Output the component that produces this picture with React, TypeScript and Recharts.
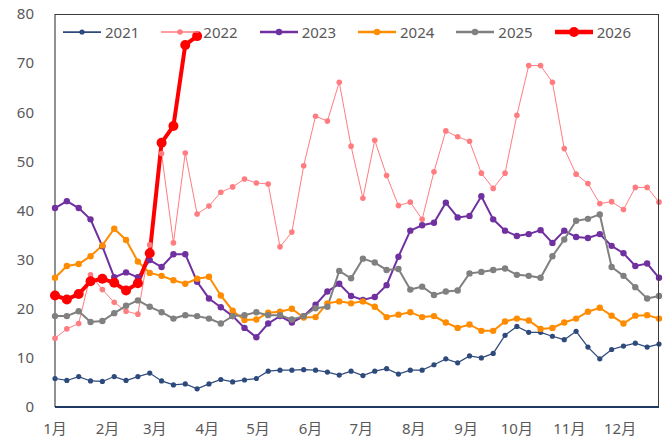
import React from 'react'
import { LineChart, Line, XAxis, YAxis } from 'recharts'

// 52 weekly points per year
const weeks = Array.from({ length: 52 }, (_, i) => i)

const monthLabels = ['1月', '2月', '3月', '4月', '5月', '6月', '7月', '8月', '9月', '10月', '11月', '12月']
const monthStartDays = [0, 31, 59, 90, 120, 151, 181, 212, 243, 273, 304, 334]
const yTicks = [0, 10, 20, 30, 40, 50, 60, 70, 80]

const s2021 = [5.8, 5.4, 6.2, 5.3, 5.2, 6.2, 5.4, 6.2, 6.9, 5.3, 4.5, 4.7, 3.7, 4.7, 5.6, 5.1, 5.5,
  5.8, 7.3, 7.5, 7.5, 7.6, 7.5, 7.1, 6.5, 7.3, 6.4, 7.3, 7.8, 6.7, 7.5, 7.5, 8.6,
  9.8, 9.0, 10.4, 10.0, 10.9, 14.6, 16.4, 15.2, 15.2, 14.4, 13.7, 15.4, 12.2, 9.8, 11.7, 12.4, 13.0, 12.2, 12.8]
const s2022 = [14.0, 15.9, 17.0, 26.9, 23.9, 21.3, 19.5, 18.9, 33.0, 51.6, 33.4, 51.7, 39.3, 40.9, 43.7, 44.8, 46.4,
  45.6, 45.4, 32.6, 35.6, 49.1, 59.2, 58.2, 66.1, 53.1, 42.5, 54.3, 47.1, 41.0, 41.7, 38.2, 47.9,
  56.2, 55.0, 54.1, 47.6, 44.5, 47.6, 59.4, 69.5, 69.5, 66.1, 52.6, 47.4, 45.5, 41.4, 41.8, 40.2, 44.7, 44.7, 41.7]
const s2023 = [40.5, 41.9, 40.5, 38.2, 32.7, 26.4, 27.4, 26.4, 29.9, 28.5, 31.1, 31.1, 25.5, 22.1, 20.3, 18.5, 16.1,
  14.2, 17.0, 18.5, 17.2, 18.5, 20.8, 23.5, 25.1, 22.6, 21.8, 22.4, 24.8, 30.6, 35.9, 37.0, 37.5,
  41.6, 38.6, 38.9, 42.9, 38.2, 35.9, 34.8, 35.2, 36.0, 33.4, 35.9, 34.6, 34.4, 35.2, 32.8, 31.3, 28.7, 29.2, 26.3]
const s2024 = [26.3, 28.7, 29.1, 30.7, 32.9, 36.3, 34.0, 29.6, 27.3, 26.7, 25.8, 25.1, 26.1, 26.5, 22.7, 19.6, 17.7,
  17.8, 19.2, 19.4, 20.0, 18.2, 18.3, 21.1, 21.5, 21.1, 21.5, 20.4, 18.3, 18.8, 19.3, 18.3, 18.5,
  17.2, 16.1, 16.8, 15.5, 15.5, 17.4, 18.0, 17.6, 15.9, 16.1, 17.2, 18.0, 19.4, 20.2, 18.6, 17.0, 18.6, 18.7, 18.0]
const s2025 = [18.5, 18.5, 19.5, 17.3, 17.5, 19.1, 20.6, 21.7, 20.4, 19.3, 18.0, 18.7, 18.5, 18.0, 17.0, 18.5, 18.7,
  19.3, 18.7, 18.7, 17.8, 18.5, 20.1, 20.4, 27.7, 26.2, 30.2, 29.4, 27.9, 28.1, 23.9, 24.5, 22.8,
  23.5, 23.7, 27.2, 27.5, 27.9, 28.2, 26.9, 26.7, 26.3, 30.7, 34.1, 37.9, 38.3, 39.2, 28.5, 26.7, 24.4, 22.1, 22.6]
const s2026 = [22.7, 21.9, 23.0, 25.6, 26.1, 25.3, 23.7, 25.2, 31.3, 53.8, 57.2, 73.7, 75.5]

const series = [
  { key: '2021', values: s2021, color: '#2E4A7D', width: 1.25, r: 2.6 },
  { key: '2022', values: s2022, color: '#FF7C80', width: 1, r: 2.8 },
  { key: '2023', values: s2023, color: '#7030A0', width: 2, r: 3.2 },
  { key: '2024', values: s2024, color: '#FF8C00', width: 2, r: 3.2 },
  { key: '2025', values: s2025, color: '#808080', width: 2, r: 3.2 },
  { key: '2026', values: s2026, color: '#FF0000', width: 4, r: 5 },
]

const data = weeks.map((w) => {
  const row: Record<string, number | undefined> = { week: w }
  series.forEach((s) => { row[s.key] = s.values[w] })
  return row
})

const monthTicks = monthStartDays.map((d) => d / 7)
const labelFor = (v: number) => monthLabels[monthTicks.findIndex((t) => Math.abs(t - v) < 0.01)] ?? ''

const font = '"Noto Sans", "Noto Sans CJK SC", sans-serif'

function LegendRow() {
  return (
    <div
      style={{
        position: 'absolute', left: 62, top: 22, display: 'flex',
        fontFamily: font, fontSize: 15, color: '#595959', lineHeight: '20px',
      }}
    >
      {series.map((s) => (
        <div key={s.key} style={{ display: 'flex', alignItems: 'center', marginRight: 21 }}>
          <svg width={40} height={14} style={{ marginRight: 3 }}>
            <line x1={1} y1={7} x2={39} y2={7} stroke={s.color} strokeWidth={s.width + 0.5} />
            <circle cx={20} cy={7} r={s.r} fill={s.color} />
          </svg>
          <span>{s.key}</span>
        </div>
      ))}
    </div>
  )
}

export default function App() {
  return (
    <div style={{ position: 'absolute', left: 0, top: 0, width: 666, height: 441, background: '#fff' }}>
      <LineChart width={666} height={441} data={data} margin={{ top: 14, right: 7, bottom: 0, left: 0 }}>
        <XAxis
          dataKey="week"
          type="number"
          domain={[0, 51]}
          ticks={monthTicks}
          tickFormatter={labelFor}
          interval={0}
          height={34}
          tickSize={0}
          tickMargin={16}
          axisLine={{ stroke: '#1F3864', strokeWidth: 2 }}
          tick={{ fill: '#595959', fontSize: 15, fontFamily: font }}
        />
        <YAxis
          domain={[0, 80]}
          ticks={yTicks}
          width={55}
          tickSize={0}
          tickMargin={21}
          axisLine={{ stroke: '#222' }}
          tickLine={false}
          tick={{ fill: '#595959', fontSize: 15, fontFamily: font }}
        />
        {series.map((s) => (
          <Line
            key={s.key}
            dataKey={s.key}
            stroke={s.color}
            strokeWidth={s.width}
            dot={{ r: s.r, fill: s.color, stroke: s.color, strokeWidth: 0 }}
            activeDot={false}
            isAnimationActive={false}
          />
        ))}
      </LineChart>
      {/* plot frame: thin top and right edges */}
      <div
        style={{
          position: 'absolute', left: 55, top: 14, width: 603, height: 392,
          borderTop: '1px solid #3a3a3a', borderRight: '1px solid #3a3a3a', pointerEvents: 'none',
        }}
      />
      <LegendRow />
    </div>
  )
}
